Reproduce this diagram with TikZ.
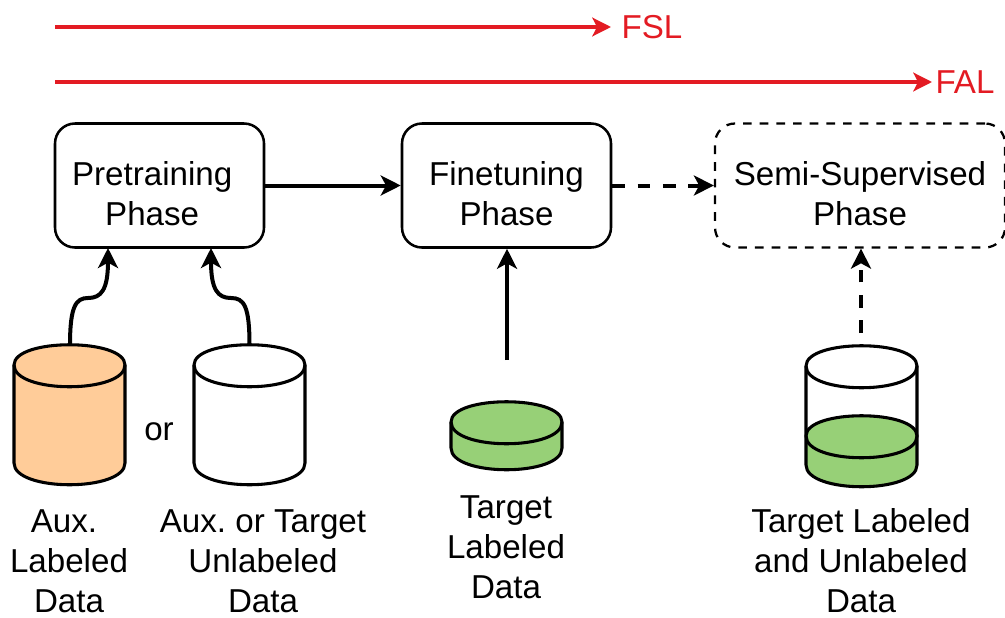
\documentclass[tikz,border=0pt]{standalone}
\usepackage{fontspec}
\setmainfont{Liberation Sans}
\usetikzlibrary{arrows.meta}
\definecolor{arrowred}{HTML}{E31B23}
\definecolor{dborange}{HTML}{FFCC99}
\definecolor{dbgreen}{HTML}{97D077}
\frenchspacing
\newcommand{\lowerstrut}{\rule{0pt}{30pt}}
\tikzset{
  x=0.75pt,y=-0.75pt,
  every node/.style={font=\fontsize{24.85}{30}\selectfont,align=center,inner sep=0pt},
  phasebox/.style={draw=black,line width=1.9pt,fill=white,rounded corners=15pt,minimum width=156.75pt,minimum height=93pt},
  dashbox/.style={phasebox,dash pattern=on 6.5pt off 6pt,line width=1.7pt,minimum width=217.5pt},
  flow/.style={draw=black,line width=3pt,-{Stealth[length=15pt,width=15pt,inset=4pt]}},
  dashflow/.style={flow,dash pattern=on 9.5pt off 9.5pt},
  redflow/.style={draw=arrowred,line width=2.6pt,-{Stealth[length=14pt,width=14pt,inset=3.5pt]}},
  redtext/.style={text=arrowred},
  dbline/.style={draw=black,line width=2.3pt,line join=round},
}
% #1 x-left, #2 x-right, #3 upper corner y, #4 lower corner y, #5 fill
\newcommand{\dbbody}[5]{%
  \path[dbline,fill=#5] (#1,#3) .. controls (#1,#3-27) and (#2,#3-27) .. (#2,#3)
    -- (#2,#4) .. controls (#2,#4+29) and (#1,#4+29) .. (#1,#4) -- cycle;
  \path[dbline] (#1,#3) .. controls (#1,#3+29) and (#2,#3+29) .. (#2,#3);
}
\begin{document}
\begin{tikzpicture}
\useasboundingbox (0,0) rectangle (1005,617);

% Red spans
\coordinate (fslstart) at (55,27);
\coordinate (falstart) at (55,82);
\node[redtext] (fsl) at (652,27) {FSL};
\node[redtext] (fal) at (965,82) {FAL};
\draw[redflow] (fslstart) -- (fsl.west -| 611,27);
\draw[redflow] (falstart) -- (fal.west -| 932,82);

% Phase boxes
\node[phasebox] (pre) at (159.5,185.5) {\lowerstrut Pretraining\hspace*{11pt}\\Phase\hspace*{11pt}};
\node[phasebox] (fine) at (506.5,185.5) {\lowerstrut Finetuning\\Phase};
\node[dashbox] (semi) at (860,185.5) {\lowerstrut Semi-Supervised\\Phase};

% Databases
\dbbody{14}{125}{365}{463}{dborange}
\dbbody{194}{305}{365}{463}{white}
\dbbody{451}{562}{422}{448}{dbgreen}
\path[dbline,fill=white] (806,366) .. controls (806,339) and (917,339) .. (917,366) -- (917,436) -- (806,436) -- cycle;
\path[dbline] (806,366) .. controls (806,395) and (917,395) .. (917,366);
\dbbody{806}{917}{436}{465}{dbgreen}

% Connector ends
\coordinate (auxtop) at (70,345);
\coordinate (unltop) at (249.5,345);
\coordinate (tgtend) at (507,360);
\coordinate (ssend) at (861,333);
\coordinate (preinl) at (108,248);
\coordinate (preinr) at (211,248);

\draw[flow] (auxtop) .. controls (70,306) and (76,298) .. (88,298)
   .. controls (101,298) and (108,290) .. (preinl);
\draw[flow] (unltop) .. controls (249.5,306) and (244,298) .. (231,298)
   .. controls (218,298) and (211,290) .. (preinr);
\draw[flow] (pre.east) -- (fine.west);
\draw[flow] (tgtend) -- (tgtend |- fine.south);
\draw[dashflow] (fine.east) -- (semi.west);
\draw[dashflow] (ssend) -- (ssend |- semi.south);

% Labels
\node (or) at (159,432) {or};
\node (auxl) at (69,561) {Aux.\hspace*{7.5pt}\\Labeled\\Data};
\node (unl) at (263,561) {Aux. or Target\\Unlabeled\\Data};
\node (tgtl) at (506,547) {Target\\Labeled\\Data};
\node (tgtu) at (861,561) {Target Labeled\\and Unlabeled\\Data};
\end{tikzpicture}
\end{document}
